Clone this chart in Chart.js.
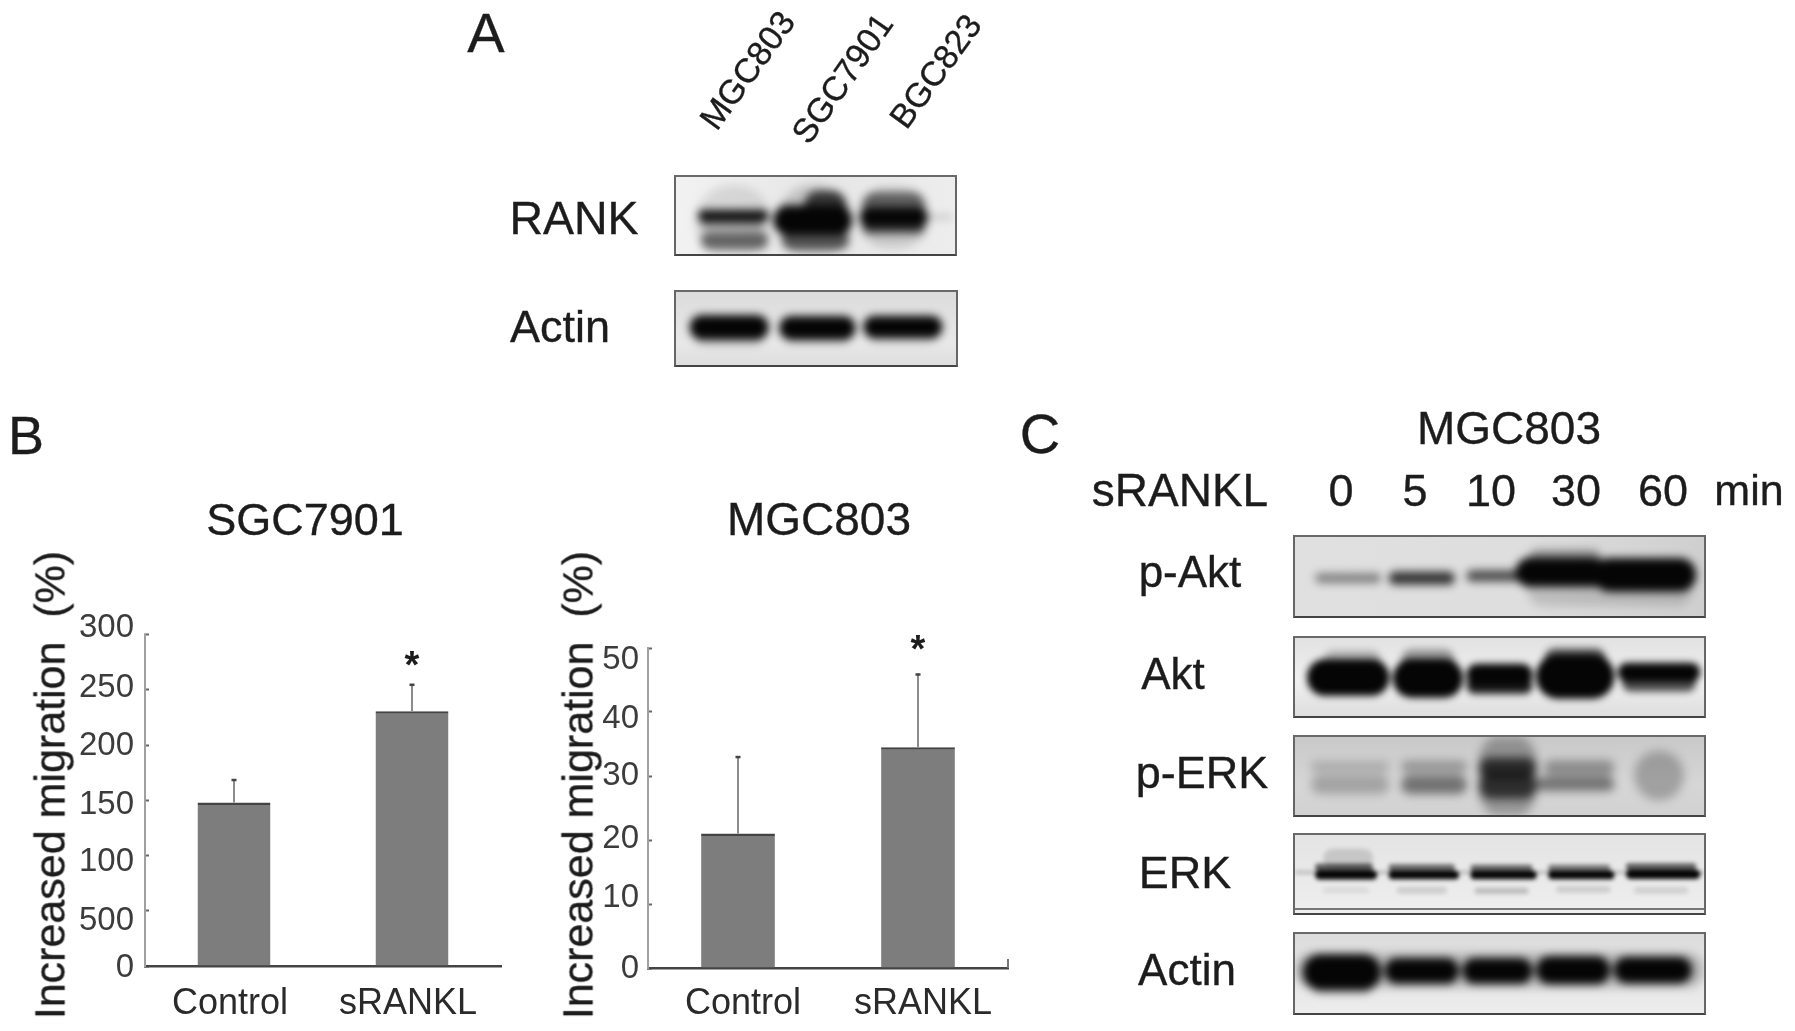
<!DOCTYPE html>
<html>
<head>
<meta charset="utf-8">
<title>RANK migration figure</title>
<script src="https://cdn.jsdelivr.net/npm/chart.js@4.4.0/dist/chart.umd.js"></script>
<style>
  html, body { margin: 0; background: #fff; }
  #stage { position: relative; width: 1795px; height: 1031px; overflow: hidden; filter: blur(0.6px);
           font-family: "Liberation Sans", Arial, sans-serif; color: #1c1c1c; }
  .cap { position: absolute; line-height: 1; white-space: pre; transform-origin: center; -webkit-text-stroke: 0.35px #1c1c1c; }
  .blot { position: absolute; box-sizing: border-box; border: 2px solid; border-color: #6a6a6a #666 #444 #666; overflow: hidden; }
  .blot canvas { position: absolute; left: 0; top: 0; }
  .plot { position: absolute; }
</style>
</head>
<body>
<div id="stage"></div>
<script>
// bar panels
const categories = ['Control', 'sRANKL'];
const sgcValues = [148, 230.6];
const sgcErrorTops = [168.6, 254.8];
const sgcTickLabels = ['300', '250', '200', '150', '100', '500', '0'];
const sgcLabelAt = [306, 252, 199, 146, 94, 40.7, -1.6]; // labels sit off their ticks in the figure
const mgcValues = [21, 34.5];
const mgcErrorTops = [33, 45.9];
const mgcTickLabels = ['50', '40', '30', '20', '10', '0'];
const mgcLabelAt = [48.2, 38.9, 30, 20.1, 11, -0.1];

// blot bands, in percent of the membrane: [xFrom, xTo, yLow, yHigh, density]
const rankBands = [
  [7, 34, 15, 108, 0.1], [8, 33, 43, 58, 0.95], [9, 31, 63, 71, 0.4], [9, 33, 88, 110, 0.55],
  [36, 63, 15, 108, 0.16], [35, 63, 40, 78, 1], [46, 61, 12, 50, 0.75], [38, 62, 86, 110, 0.6],
  [65, 91, 14, 92, 0.15], [66, 90, 41, 65, 1], [67, 89, 14, 46, 0.55], [67, 89, 62, 80, 0.7],
  [90, 99, 51, 55, 0.2]
];
const actinBands = [
  [5, 33, 31, 64, 1], [37, 64, 33, 65, 1], [67, 95, 32, 62, 1],
  [7, 31, 58, 78, 0.18], [39, 62, 58, 76, 0.16], [69, 93, 56, 74, 0.14]
];
const pAktBands = [
  [5, 21, 47, 59, 0.42], [23, 39, 45, 61, 0.78], [42, 55, 42, 56, 0.65],
  [54, 76, 24, 60, 1], [73, 98, 26, 68, 1], [57, 75, 6, 32, 0.35], [57, 97, 56, 95, 0.14]
];
const aktBands = [
  [3, 23, 28, 74, 1], [24, 41, 28, 77, 1], [42, 58, 32, 60, 1], [42, 58, 56, 77, 0.88],
  [59, 78, 21, 77, 1], [79, 99, 29, 53, 1], [80, 98, 49, 72, 0.68],
  [7, 21, 6, 32, 0.25], [26, 39, 4, 32, 0.35], [61, 76, 2, 30, 0.6]
];
const pErkBands = [
  [4, 23, 26, 38, 0.2], [4, 23, 54, 78, 0.24], [26, 42, 25, 39, 0.3], [26, 42, 55, 78, 0.48],
  [45, 59, -5, 105, 0.3], [45, 59, 22, 47, 0.75], [45, 59, 53, 85, 0.72],
  [61, 78, 25, 44, 0.34], [59, 78, 57, 74, 0.48], [83, 95, 18, 80, 0.25]
];
const erkBands = [
  [5, 19, 33, 41, 0.62], [23, 39, 34, 42, 0.56], [43, 58, 35, 43, 0.56], [62, 77, 35, 43, 0.5], [81, 98, 32, 40, 0.6],
  [5, 20, 46, 57, 1], [23, 40, 47, 57, 1], [43, 59, 47, 57, 1], [62, 78, 47, 57, 1], [81, 99, 45, 56, 1],
  [7, 19, 8, 32, 0.14], [0, 100, 46, 48, 0.3],
  [7, 18, 78, 84, 0.08], [25, 37, 78, 85, 0.14], [44, 57, 79, 86, 0.2], [64, 77, 76, 83, 0.14], [83, 96, 78, 85, 0.12]
];
const cActinBands = [
  [2, 21, 25, 70, 1], [22, 40, 29, 61, 1], [41, 58, 29, 61, 1], [59, 77, 26, 61, 1], [78, 97, 27, 60, 1],
  [4, 19, 60, 82, 0.3], [0, 100, 22, 66, 0.2]
];

const stage = document.getElementById('stage');

function cap(text, x, y, size, opts) {
  const el = document.createElement('div');
  const o = opts || {};
  el.className = 'cap';
  el.textContent = text;
  el.style.left = x + 'px';
  el.style.top = y + 'px';
  el.style.fontSize = size + 'px';
  el.style.transform = 'translate(-50%,-50%) rotate(' + (o.rot || 0) + 'deg)';
  stage.appendChild(el);
}

// draws the whisker stem and its small cap dot from each dataset's tops
const errorBars = {
  id: 'errorBars',
  afterDatasetsDraw(chart, args, opts) {
    const { ctx, scales: { x, y } } = chart;
    ctx.save();
    opts.tops.forEach((top, i) => {
      const px = x.getPixelForValue(i);
      const yTop = y.getPixelForValue(top);
      ctx.fillStyle = '#8c8c8c';
      ctx.fillRect(px - 1, yTop, 2, y.getPixelForValue(opts.values[i]) - yTop);
      ctx.fillStyle = '#444';
      ctx.fillRect(px - 2.5, yTop - 1, 5, 2.5);
    });
    ctx.fillStyle = '#1c1c1c';
    ctx.font = 'bold 38px "Liberation Sans"';
    ctx.textAlign = 'center';
    ctx.fillText('*', x.getPixelForValue(1), y.getPixelForValue(opts.starAt));
    if (opts.endTick) {
      ctx.fillStyle = '#777';
      ctx.fillRect(chart.chartArea.right - 1, chart.chartArea.bottom - 9, 2, 9);
    }
    ctx.restore();
  }
};

function barPanel(box, values, tops, max, step, tickLabels, labelAt, labelShift, starAt, endTick) {
  const canvas = document.createElement('canvas');
  canvas.className = 'plot';
  canvas.width = box.w;
  canvas.height = box.h;
  canvas.style.left = box.x + 'px';
  canvas.style.top = box.y + 'px';
  stage.appendChild(canvas);
  return new Chart(canvas, {
    type: 'bar',
    data: {
      labels: categories,
      datasets: [{
        data: values,
        backgroundColor: '#7d7d7d',
        borderColor: '#444',
        borderWidth: { top: 2.5, left: 0, right: 0, bottom: 0 },
        borderSkipped: false,
        categoryPercentage: 1,
        barPercentage: 0.41
      }]
    },
    options: {
      responsive: false,
      animation: false,
      layout: { padding: box.pad, autoPadding: false },
      plugins: {
        legend: { display: false },
        tooltip: { enabled: false },
        errorBars: { values, tops, starAt, endTick }
      },
      scales: {
        x: {
          grid: { display: false, drawTicks: false },
          border: { color: '#444', width: 2.5 },
          ticks: { color: '#2a2a2a', font: { size: 36, family: 'Liberation Sans' }, padding: box.xPad, labelOffset: labelShift, maxRotation: 0, autoSkip: false },
          afterFit(s) { s.height = 59; }
        },
        y: {
          min: 0,
          max,
          ticks: { display: false, stepSize: step },
          grid: { drawOnChartArea: false, tickLength: -4, tickColor: '#666', tickWidth: 2 },
          border: { color: '#a0a0a0', width: 2 },
          afterFit(s) { s.width = 3; }
        },
        yLabels: {
          axis: 'y',
          position: 'left',
          weight: 1,
          min: 0,
          max,
          grid: { display: false, drawTicks: false },
          border: { display: false },
          ticks: {
            color: '#3c3c3c',
            font: { size: 33, family: 'Liberation Sans' },
            padding: box.labelPad,
            autoSkip: false,
            callback: (v, i) => tickLabels[i]
          },
          afterBuildTicks(s) { s.ticks = labelAt.map(value => ({ value })); },
          // no room reserved for the overhanging first and last label
          afterFit(s) { s.width = box.labelWidth; s.paddingTop = 0; s.paddingBottom = 0; }
        }
      }
    },
    plugins: [errorBars]
  });
}

function blot(x, y, w, h, bands, background, blur, inset) {
  const wrap = document.createElement('div');
  wrap.className = 'blot';
  wrap.style.cssText = 'left:' + x + 'px;top:' + y + 'px;width:' + w + 'px;height:' + h + 'px;background:' + background;
  if (inset) wrap.style.boxShadow = inset;
  const canvas = document.createElement('canvas');
  canvas.width = w - 4;
  canvas.height = h - 4;
  canvas.style.filter = 'blur(' + blur + 'px)';
  wrap.appendChild(canvas);
  stage.appendChild(wrap);
  return new Chart(canvas, {
    type: 'bar',
    data: {
      datasets: bands.map(b => ({
        data: [{ x: [b[0], b[1]], y: (b[2] + b[3]) / 2 }],
        barThickness: (b[3] - b[2]) / 100 * (h - 4),
        backgroundColor: 'rgba(5,5,5,' + b[4] + ')',
        borderSkipped: false,
        borderRadius: 40,
        grouped: false
      }))
    },
    options: {
      indexAxis: 'y',
      responsive: false,
      animation: false,
      layout: { padding: 0, autoPadding: false },
      plugins: { legend: { display: false }, tooltip: { enabled: false } },
      scales: {
        x: { type: 'linear', min: 0, max: 100, display: false },
        y: { type: 'linear', min: 0, max: 100, reverse: true, display: false }
      }
    }
  });
}

const sgcBox = { x: 60, y: 600, w: 460, h: 425, pad: { top: 34.6, right: 19, left: 0, bottom: 0 }, labelWidth: 82, labelPad: 8, xPad: 16 };
const mgcBox = { x: 570, y: 610, w: 460, h: 417, pad: { top: 38, right: 22, left: 0, bottom: 0 }, labelWidth: 75, labelPad: 6, xPad: 14 };
barPanel(sgcBox, sgcValues, sgcErrorTops, 300, 50, sgcTickLabels, sgcLabelAt, -4, 260.6, false);
barPanel(mgcBox, mgcValues, mgcErrorTops, 50, 10, mgcTickLabels, mgcLabelAt, 5, 47.8, true);

blot(674, 175, 283, 81, rankBands, 'linear-gradient(90deg,#f2f2f2,#e6e6e6 50%,#ededed)', 4);
blot(674, 290, 284, 77, actinBands, 'linear-gradient(180deg,#dcdcdc,#e8e8e8 70%,#dedede)', 4);
blot(1293, 535, 413, 83, pAktBands, 'linear-gradient(90deg,#e0e0e0,#dedede 55%,#cfcfcf)', 4);
blot(1293, 636, 413, 82, aktBands, 'linear-gradient(180deg,#e2e2e2,#f0f0f0 55%,#dedede)', 3.5);
blot(1293, 735, 413, 82, pErkBands, 'linear-gradient(180deg,#c9c9c9,#d6d6d6 60%,#d2d2d2)', 5);
blot(1293, 833, 413, 82, erkBands, 'linear-gradient(180deg,#e4e4e4,#eeeeee)', 2.2, 'inset 0 -3px 0 #eee, inset 0 -5px 0 #777');
blot(1293, 932, 413, 83, cActinBands, 'linear-gradient(180deg,#dcdcdc,#ededed)', 4);

// panel letters
cap('A', 486, 33, 56);
cap('B', 26, 435, 54);
cap('C', 1040, 434, 56);

// panel A text
cap('MGC803', 747, 70, 34, { rot: -54 });
cap('SGC7901', 842, 78, 34, { rot: -55 });
cap('BGC823', 935, 71, 34, { rot: -54 });
cap('RANK', 574, 218, 46.5);
cap('Actin', 560, 326, 45);

// panel B text
cap('SGC7901', 305, 519, 45);
cap('MGC803', 819, 519, 46);
cap('Increased migration  (%)', 50, 785, 43, { rot: -90 });
cap('Increased migration  (%)', 578, 785, 43, { rot: -90 });

// panel C text
cap('MGC803', 1509, 428, 46);
cap('sRANKL', 1180, 490, 46);
cap('0', 1341, 490, 45);
cap('5', 1415, 490, 45);
cap('10', 1491, 490, 45);
cap('30', 1576, 490, 45);
cap('60', 1663, 490, 45);
cap('min', 1749, 490, 43);
cap('p-Akt', 1190, 572, 44);
cap('Akt', 1173, 674, 44);
cap('p-ERK', 1202, 772, 45);
cap('ERK', 1185, 872, 45);
cap('Actin', 1187, 970, 44);
</script>
</body>
</html>
